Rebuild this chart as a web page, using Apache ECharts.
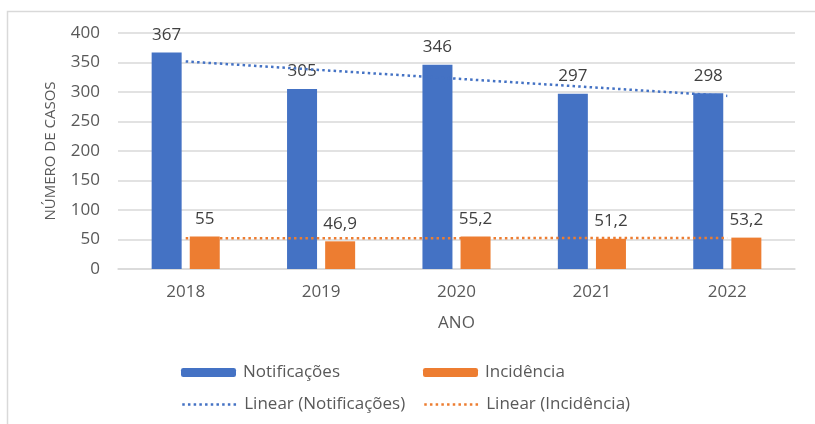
<!DOCTYPE html>
<html>
<head>
<meta charset="utf-8">
<script src="https://cdn.jsdelivr.net/npm/echarts@6/dist/echarts.min.js"></script>
<style>
  html, body { margin: 0; padding: 0; background: #ffffff; }
  #chart { width: 815px; height: 424px; }
</style>
</head>
<body>
<div id="chart"></div>
<script>
// Casos por ano
const years = ['2018', '2019', '2020', '2021', '2022'];
const notificacoes = [367, 305, 346, 297, 298];
const incidencia = [55, 46.9, 55.2, 51.2, 53.2];
const yTicks = [0, 50, 100, 150, 200, 250, 300, 350, 400];

// Least-squares linear trend over the category index
function linearTrend(values) {
  const n = values.length;
  let sx = 0, sy = 0, sxx = 0, sxy = 0;
  values.forEach((v, i) => { const x = i + 1; sx += x; sy += v; sxx += x * x; sxy += x * v; });
  const slope = (n * sxy - sx * sy) / (n * sxx - sx * sx);
  const intercept = (sy - slope * sx) / n;
  return values.map((_, i) => +(intercept + slope * (i + 1)).toFixed(3));
}

const BLUE = '#4472C4';
const ORANGE = '#ED7D31';
const TXT = '#595959';
const FONT = '"Open Sans", "Noto Sans", sans-serif';

const fmt = v => String(v).replace('.', ',');

const chart = echarts.init(document.getElementById('chart'), null, { renderer: 'canvas' });

function legendAt(name, left, top, isLine) {
  const l = {
    data: [name], left: left, top: top,
    itemWidth: 55, itemHeight: 9, itemGap: 8,
    textStyle: { color: TXT, fontSize: 17, fontFamily: FONT, padding: [0, 0, 0, 2] },
    selectedMode: false
  };
  if (isLine) {
    l.itemStyle = { opacity: 0 };
    l.lineStyle = { width: 2.5, type: [2.5, 3.2] };
  }
  return l;
}

chart.setOption({
  animation: false,
  backgroundColor: '#ffffff',
  textStyle: { fontFamily: FONT },
  graphic: [{
    type: 'rect', silent: true, z: -10,
    shape: { x: 7.5, y: 11.5, width: 900, height: 500 },
    style: { fill: 'none', stroke: '#d9d9d9', lineWidth: 1.5 }
  }],
  legend: [
    legendAt('Notificações', 176, 359, false),
    legendAt('Incidência', 418, 359, false),
    legendAt('Linear (Notificações)', 176, 391, true),
    legendAt('Linear (Incidência)', 418, 391, true)
  ],
  grid: { left: 118, right: 20, top: 33, bottom: 155, containLabel: false },
  xAxis: {
    type: 'category',
    data: years,
    name: 'ANO', nameLocation: 'middle', nameGap: 46,
    nameTextStyle: { color: TXT, fontSize: 17, fontFamily: FONT },
    axisLine: { lineStyle: { color: '#d9d9d9', width: 1.5 } },
    axisTick: { show: false },
    axisLabel: { color: TXT, fontSize: 17, margin: 15, fontFamily: FONT }
  },
  yAxis: {
    type: 'value',
    min: yTicks[0], max: yTicks[yTicks.length - 1], interval: yTicks[1] - yTicks[0],
    name: 'NÚMERO DE CASOS', nameLocation: 'middle', nameGap: 60, nameRotate: 90,
    nameTextStyle: { color: TXT, fontSize: 15, fontFamily: FONT },
    axisLine: { show: false },
    axisTick: { show: false },
    axisLabel: { color: TXT, fontSize: 17, margin: 18, fontFamily: FONT },
    splitLine: { lineStyle: { color: '#d9d9d9', width: 1.5 } }
  },
  series: [
    {
      name: 'Notificações', type: 'bar', data: notificacoes,
      barWidth: 30, barGap: '27%',
      itemStyle: { color: BLUE },
      label: { show: true, position: 'top', distance: 9, color: '#404040', fontSize: 17, fontFamily: FONT, formatter: p => fmt(p.value) }
    },
    {
      name: 'Incidência', type: 'bar', data: incidencia,
      barWidth: 30,
      itemStyle: { color: ORANGE },
      label: { show: true, position: 'top', distance: 9, color: '#404040', fontSize: 17, fontFamily: FONT, formatter: p => fmt(p.value) }
    },
    {
      name: 'Linear (Notificações)', type: 'line', data: linearTrend(notificacoes),
      symbol: 'none', z: 5,
      lineStyle: { color: BLUE, width: 2.5, type: [2.5, 3.2] },
      itemStyle: { color: BLUE }
    },
    {
      name: 'Linear (Incidência)', type: 'line', data: linearTrend(incidencia),
      symbol: 'none', z: 5,
      lineStyle: { color: ORANGE, width: 2.5, type: [2.5, 3.2] },
      itemStyle: { color: ORANGE }
    }
  ]
});
</script>
</body>
</html>
